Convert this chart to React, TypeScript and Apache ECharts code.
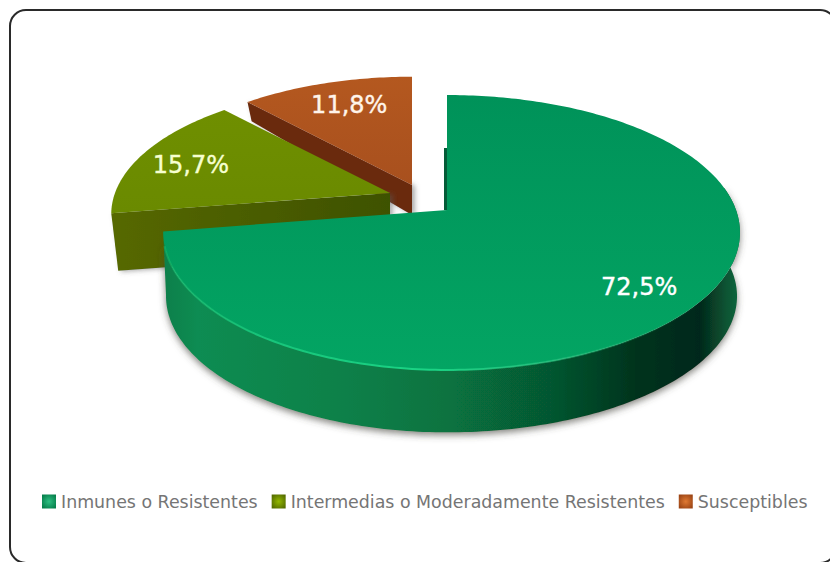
import React, { useEffect, useRef } from "react";
import * as echarts from "echarts";

const categories = ["Inmunes o Resistentes", "Intermedias o Moderadamente Resistentes", "Susceptibles"];
const values = [72.5, 15.7, 11.8];
const legendCenters = ["#2fbf83", "#93b800", "#e07a33"];
const legendEdges = ["#07804c", "#556d00", "#9c4515"];

const TOTAL = values.reduce((a, b) => a + b, 0);
const starts: number[] = [];
values.reduce((acc, v, i) => { starts[i] = acc; return acc + (v / TOTAL) * 360; }, 0);

const K = 0.1636;
const RAD = Math.PI / 180;

type Look = {
  cx: number; cy: number; aR: number; aL: number; b: number; s: number;
  hOuter: number; hApex: number; labelR: number; labelDx: number; labelDy: number; labelColor: string;
  top: any; wall: any; cut: any;
};

const grad = (x0: number, y0: number, x1: number, y1: number, stops: [number, string][]) =>
  new echarts.graphic.LinearGradient(x0, y0, x1, y1, stops.map(([offset, color]) => ({ offset, color })));

const looks: Look[] = [
  {
    cx: 447, cy: 210, aR: 289, aL: 280, b: 133.8, s: 0.99, hOuter: 64, hApex: 64,
    labelR: 0.8, labelDx: 0, labelDy: 1, labelColor: "#ffffff",
    top: grad(0, 0, 0, 1, [[0, "#009259"], [1, "#03a563"]]),
    wall: grad(0, 0, 1, 0, [[0, "#0a7f4b"], [0.06, "#0b8c52"], [0.3, "#0a8149"], [0.5, "#077240"], [0.68, "#06552f"], [0.82, "#04331d"], [0.93, "#03281a"], [1, "#0f6a40"]]),
    cut: "#03502f",
  },
  {
    cx: 390, cy: 193, aR: 289, aL: 275, b: 126, s: 0.975, hOuter: 58, hApex: 58,
    labelR: 0.8, labelDx: 0, labelDy: 4, labelColor: "#f6ffd0",
    top: grad(0, 0, 0, 1, [[0, "#6f8f00"], [1, "#6a8a00"]]),
    wall: "#4d6000",
    cut: grad(0, 0, 1, 0, [[0, "#566800"], [1, "#3e5200"]]),
  },
  {
    cx: 412, cy: 185, aR: 289, aL: 273, b: 126, s: 0.975, hOuter: 17, hApex: 30,
    labelR: 0.74, labelDx: 3, labelDy: -2, labelColor: "#fff4ea",
    top: grad(0, 0, 0, 1, [[0, "#b4581f"], [1, "#a8501e"]]),
    wall: "#6b2a0c",
    cut: "#6b2a0c",
  },
];

function project(look: Look, deg: number, rho = 1) {
  const u = Math.sin(deg * RAD) * rho;
  const v = -Math.cos(deg * RAD) * rho;
  const w = 1 - K * v;
  const a = u >= 0 ? look.aR : look.aL;
  return [look.cx + (a * u) / w, look.cy + (look.b * v) / w];
}

function lowered(look: Look, p: number[], h: number) {
  return [look.cx + (p[0] - look.cx) * look.s, look.cy + (p[1] - look.cy) * look.s + h];
}

function rim(look: Look, from: number, to: number) {
  const pts: number[][] = [];
  const n = Math.max(2, Math.ceil(Math.abs(to - from)));
  for (let i = 0; i <= n; i++) pts.push(project(look, from + ((to - from) * i) / n));
  return pts;
}

function sliceSeries(i: number) {
  const look = looks[i];
  const start = starts[i];
  const end = start + (values[i] / TOTAL) * 360;
  return {
    type: "custom",
    name: categories[i],
    coordinateSystem: "none",
    silent: true,
    itemStyle: {
      color: new echarts.graphic.RadialGradient(0.5, 0.5, 0.6, [
        { offset: 0, color: legendCenters[i] },
        { offset: 1, color: legendEdges[i] },
      ]),
    },
    data: [[values[i]]],
    renderItem: () => {
      const apex = [look.cx, look.cy];
      const children: any[] = [];
      if (i === 0) {
        const wallTop = rim(look, 80, end);
        const wallBottom = wallTop.map((p) => lowered(look, p, look.hOuter)).reverse();
        children.push({
          type: "polygon",
          shape: { points: [...wallTop, ...wallBottom] },
          style: { fill: look.wall, shadowBlur: 7, shadowColor: "rgba(70,70,60,0.65)", shadowOffsetY: 3 },
        });
      } else {
        // cut face turned towards the viewer, along the slice's first edge
        const outer = project(look, start);
        children.push({
          type: "polygon",
          shape: { points: [apex, outer, lowered(look, outer, look.hOuter), lowered(look, apex, look.hApex)] },
          style: { fill: look.cut, shadowBlur: 5, shadowColor: "rgba(90,90,90,0.5)", shadowOffsetX: 3, shadowOffsetY: 1 },
        });
      }
      // top surface
      children.push({
        type: "polygon",
        shape: { points: [apex, ...rim(look, start, end)] },
        style: { fill: look.top },
      });
      if (i === 0) {
        // thin dark strip beside the first cut edge
        children.push({
          type: "polygon",
          shape: { points: [[look.cx, look.cy - 62], [look.cx - 3, look.cy - 62], [look.cx - 3, look.cy], [look.cx, look.cy]] },
          style: { fill: "#045c38" },
        });
        // bright rim highlight
        children.push({
          type: "polyline",
          shape: { points: rim(look, 130, 255) },
          style: {
            fill: "none",
            lineWidth: 2,
            stroke: grad(0, 0, 1, 0, [[0, "rgba(20,190,110,0.5)"], [0.18, "#17c47a"], [0.5, "#1bd485"], [0.75, "rgba(40,200,130,0.6)"], [1, "rgba(20,170,100,0.1)"]]),
          },
        });
      }
      // value label
      const lp = project(look, (start + end) / 2, look.labelR);
      children.push({
        type: "text",
        x: lp[0] + look.labelDx,
        y: lp[1] + look.labelDy,
        style: {
          text: `${values[i].toFixed(1).replace(".", ",")}%`,
          fill: look.labelColor,
          stroke: look.labelColor,
          lineWidth: 0.4,
          font: '24px "DejaVu Sans"',
          align: "center",
          verticalAlign: "middle",
        },
      });
      return { type: "group", children };
    },
  };
}

export default function App() {
  const ref = useRef<HTMLDivElement>(null);
  useEffect(() => {
    const chart = echarts.init(ref.current!, null, { renderer: "svg" });
    chart.setOption({
      animation: false,
      backgroundColor: "#ffffff",
      graphic: [
        {
          type: "rect",
          z: -1,
          shape: { x: 10, y: 10, width: 826, height: 553, r: 16 },
          style: { fill: "none", stroke: "#2a2a2a", lineWidth: 2 },
        },
      ],
      legend: {
        left: 37,
        top: 488,
        itemWidth: 14,
        itemHeight: 14,
        itemGap: 14,
        icon: "rect",
        data: categories,
        textStyle: { fontFamily: '"DejaVu Sans"', fontSize: 17.4, color: "#757575" },
      },
      // drawn back to front
      series: [sliceSeries(2), sliceSeries(1), sliceSeries(0)],
    });
    return () => chart.dispose();
  }, []);
  return <div ref={ref} style={{ width: 830, height: 562, position: "fixed", left: 0, top: 0 }} />;
}
